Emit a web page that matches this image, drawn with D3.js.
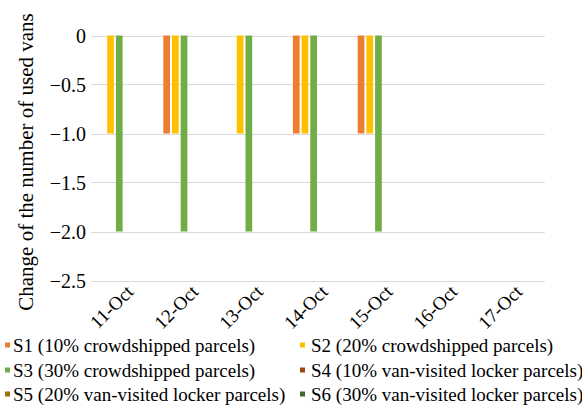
<!DOCTYPE html>
<html>
<head>
<meta charset="utf-8">
<script src="https://cdn.jsdelivr.net/npm/d3@7"></script>
<style>
  body { margin: 0; background: #fff; }
</style>
</head>
<body>
<script>
// ----------------------------------------
//  Data
// ----------------------------------------

var dates = ["11-Oct", "12-Oct", "13-Oct", "14-Oct", "15-Oct", "16-Oct", "17-Oct"];

var seriesNames = [
  "S1 (10% crowdshipped parcels)",
  "S2 (20% crowdshipped parcels)",
  "S3 (30% crowdshipped parcels)",
  "S4 (10% van-visited locker parcels)",
  "S5 (20% van-visited locker parcels)",
  "S6 (30% van-visited locker parcels)"
];

var s1 = [0, -1, 0, -1, -1, 0, 0];
var s2 = [-1, -1, -1, -1, -1, 0, 0];
var s3 = [-2, -2, -2, -2, -2, 0, 0];
var s4 = [0, 0, 0, 0, 0, 0, 0];
var s5 = [0, 0, 0, 0, 0, 0, 0];
var s6 = [0, 0, 0, 0, 0, 0, 0];

var yTicks = [0, -0.5, -1.0, -1.5, -2.0, -2.5];
var yTickLabels = ["0", "\u22120.5", "\u22121.0", "\u22121.5", "\u22122.0", "\u22122.5"];

var colors = ["#ED7D31", "#FFC000", "#70AD47", "#9E480E", "#997300", "#43682B"];

var allSeries = [s1, s2, s3, s4, s5, s6];

// ----------------------------------------
//  Setup
// ----------------------------------------

var W = 582, H = 408;
var plot = {left: 91.2, right: 544.8, top: 35.5, bottom: 280.5};

var svg = d3.select("body").append("svg")
    .attr("width", W)
    .attr("height", H)
    .attr("font-family", "'Liberation Serif', 'Times New Roman', Times, serif");

var x0 = d3.scaleBand()
    .domain(dates)
    .range([plot.left, plot.right])
    .paddingInner(0.225)
    .paddingOuter(0.1125);

var x1 = d3.scaleBand()
    .domain(d3.range(seriesNames.length))
    .range([0, x0.bandwidth()])
    .paddingInner(0.23);

var y = d3.scaleLinear()
    .domain([-2.5, 0])
    .range([plot.bottom, plot.top]);

// gridlines
svg.append("g")
  .selectAll("line")
  .data(yTicks)
  .enter()
  .append("line")
    .attr("x1", plot.left)
    .attr("x2", plot.right)
    .attr("y1", function(d) { return Math.round(y(d)) + 0.5; })
    .attr("y2", function(d) { return Math.round(y(d)) + 0.5; })
    .attr("stroke", "#d9d9d9")
    .attr("stroke-width", 1);

// y tick labels
svg.append("g")
  .selectAll("text")
  .data(yTicks)
  .enter()
  .append("text")
    .attr("x", 86)
    .attr("y", function(d) { return y(d); })
    .attr("dy", "0.35em")
    .attr("text-anchor", "end")
    .attr("font-size", 20)
    .text(function(d, i) { return yTickLabels[i]; });

// y axis title
svg.append("text")
    .attr("transform", "translate(33," + ((7 + 317) / 2) + ") rotate(-90)")
    .attr("text-anchor", "middle")
    .attr("font-size", 21)
    .text("Change of the number of used vans");

// ----------------------------------------
//  Bars
// ----------------------------------------

var groups = svg.append("g")
  .selectAll("g")
  .data(dates)
  .enter()
  .append("g")
    .attr("transform", function(d) { return "translate(" + x0(d) + ",0)"; });

groups.selectAll("rect")
  .data(function(d, i) {
    return allSeries.map(function(s, k) { return {k: k, v: s[i]}; });
  })
  .enter()
  .append("rect")
    .attr("x", function(d) { return x1(d.k); })
    .attr("width", x1.bandwidth())
    .attr("y", function(d) { return y(Math.max(0, d.v)); })
    .attr("height", function(d) { return Math.abs(y(d.v) - y(0)); })
    .attr("fill", function(d) { return colors[d.k]; });

// x labels (rotated)
svg.append("g")
  .selectAll("text")
  .data(dates)
  .enter()
  .append("text")
    .attr("transform", function(d) {
      var cx = x0(d) + x0.bandwidth() / 2;
      return "translate(" + (cx + 11) + ",293) rotate(-45)";
    })
    .attr("text-anchor", "end")
    .attr("font-size", 19)
    .text(function(d) { return d; });

// ----------------------------------------
//  Legend
// ----------------------------------------

var legMarkX = [5, 300];
var legTextX = [13, 311];
var legRowY = [345, 370, 394];

var leg = svg.append("g")
  .selectAll("g")
  .data(seriesNames)
  .enter()
  .append("g");

leg.append("rect")
    .attr("x", function(d, i) { return legMarkX[i % 2]; })
    .attr("y", function(d, i) { return legRowY[Math.floor(i / 2)] - 2.5; })
    .attr("width", 5)
    .attr("height", 5)
    .attr("fill", function(d, i) { return colors[i]; });

leg.append("text")
    .attr("x", function(d, i) { return legTextX[i % 2]; })
    .attr("y", function(d, i) { return legRowY[Math.floor(i / 2)]; })
    .attr("dy", "0.35em")
    .attr("font-size", 19)
    .text(function(d) { return d; });
</script>
</body>
</html>
